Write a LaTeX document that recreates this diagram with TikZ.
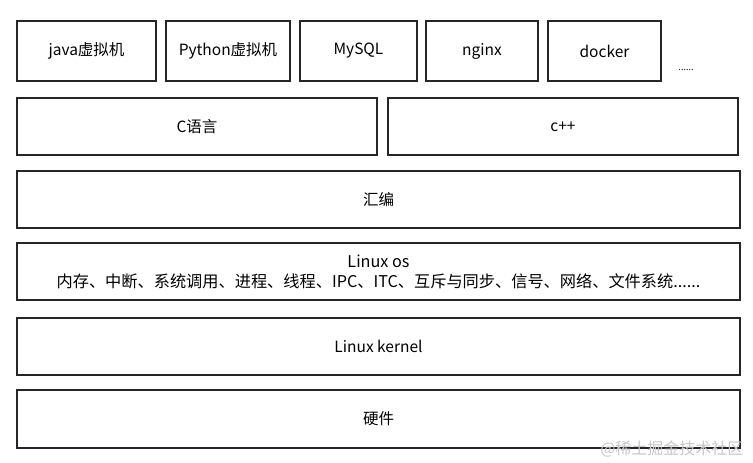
\documentclass[tikz,border=0pt]{standalone}
\usepackage{fontspec}
\setmainfont{Noto Sans CJK SC}
\begin{document}
\begin{tikzpicture}[x=1pt,y=-1pt,
  layer/.style={draw=black!85, line width=2pt, fill=white, inner sep=0pt, font=\fontsize{15.5}{18}\selectfont},
  wide/.style={layer, minimum width=723pt, minimum height=57pt}]
\useasboundingbox (0,0) rectangle (753,463);
% top row
\node[layer, minimum width=139pt, minimum height=60pt] (java) at (86.5,51) {java虚拟机};
\node[layer, minimum width=124pt, minimum height=60pt] (python) at (228,51) {Python虚拟机};
\node[layer, minimum width=117pt, minimum height=60pt] (mysql) at (358.5,51) {MySQL};
\node[layer, minimum width=112pt, minimum height=60pt] (nginx) at (482,51) {nginx};
\node[layer, minimum width=113pt, minimum height=60pt] (docker) at (604.5,51) {docker};
\node[font=\fontsize{9}{9}\selectfont] (more) at (686,70) {......};
% languages
\node[layer, minimum width=360pt, minimum height=57pt] (clang) at (197,126.5) {C语言};
\node[layer, minimum width=350pt, minimum height=57pt] (cpp) at (563,126.5) {c++};
% lower layers
\node[wide] (asm) at (378.5,199.5) {汇编};
\node[wide, align=center, font=\fontsize{16.2}{20}\selectfont] (os) at (378.5,271.5)
  {Linux os\\内存、中断、系统调用、进程、线程、IPC、ITC、互斥与同步、信号、网络、文件系统......};
\node[wide] (kernel) at (378.5,346.5) {Linux kernel};
\node[wide, minimum height=58pt] (hw) at (378.5,419) {硬件};
% watermark
\node[text=black!22, font=\fontsize{16}{16}\selectfont, anchor=east] (mark) at (747,449) {@稀土掘金技术社区};
\end{tikzpicture}
\end{document}
